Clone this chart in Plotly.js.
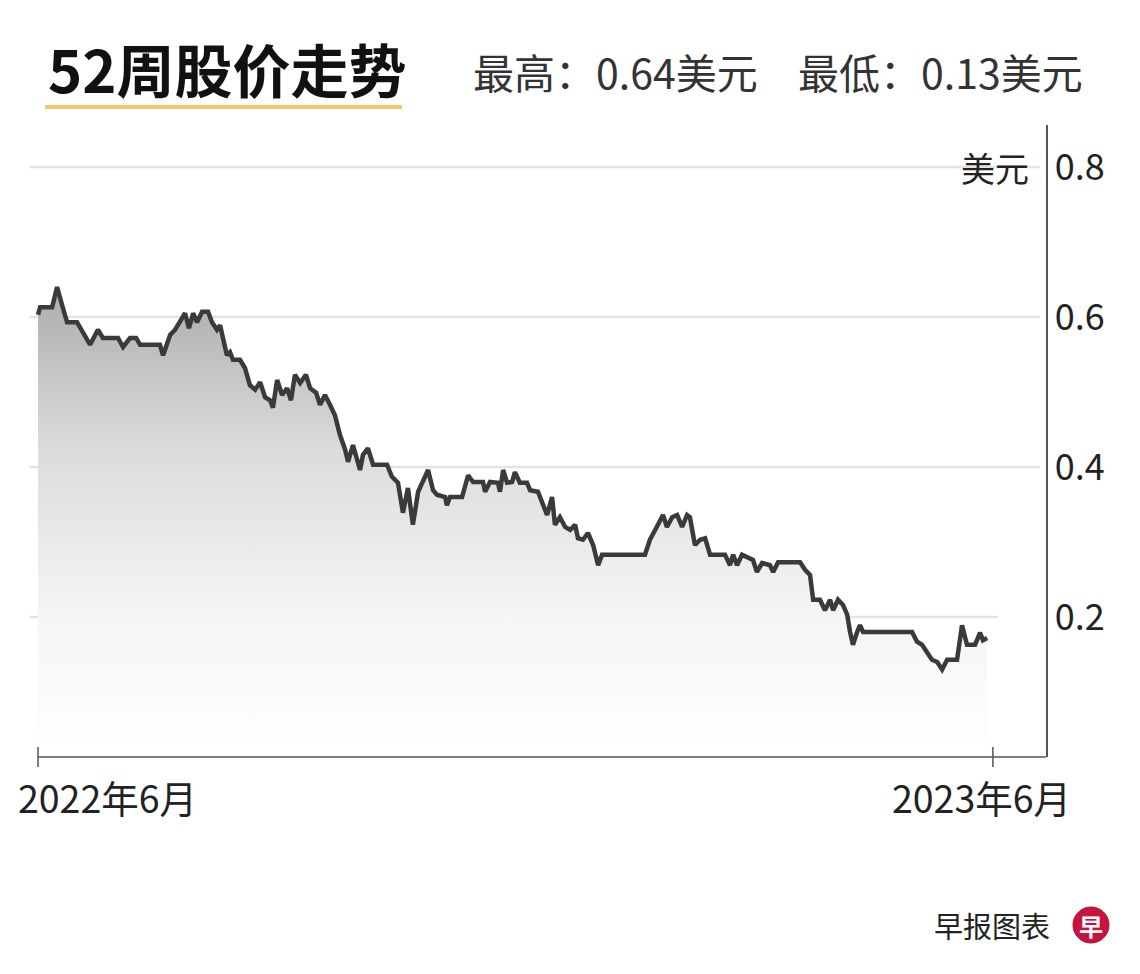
<!DOCTYPE html>
<html>
<head>
<meta charset="utf-8">
<script src="https://cdn.plot.ly/plotly-3.0.1.min.js"></script>
<style>
  html, body { margin: 0; padding: 0; background: #ffffff; }
  #chart { width: 1140px; height: 974px; }
</style>
</head>
<body>
<div id="chart"></div>
<script>
// Days since start of the 52-week window (2022年6月 = day 0, 2023年6月 = day 365)
const days = [
  0, 0.8, 5.4, 7.3, 9.2, 11.1, 14.9, 17.6, 19.9, 22.9, 24.8, 30.6, 32.5, 35.2, 37.5, 39.0,
  46.6, 47.8, 50.5, 52.4, 56.2, 57.7, 59.3, 60.8, 62.7, 65.0, 66.5, 68.4, 69.6, 72.2, 73.4,
  74.5, 77.2, 79.1, 81.0, 83.0, 84.9, 86.8, 88.7, 89.8, 91.4, 93.3, 95.2, 96.7, 98.2, 100.2,
  102.4, 104.0, 106.3, 107.8, 109.7, 111.6, 113.5, 115.4, 117.4, 118.5, 120.4, 123.1, 124.2,
  126.1, 128.1, 133.4, 135.3, 137.6, 139.5, 141.4, 143.3, 145.3, 146.8, 149.1, 151.0, 152.5,
  155.6, 156.3, 157.5, 162.1, 164.4, 166.3, 170.1, 170.9, 172.8, 175.8, 176.6, 177.8, 179.3,
  181.2, 182.3, 184.2, 186.9, 188.1, 191.1, 193.0, 194.6, 196.5, 197.6, 199.5, 201.5, 203.4,
  205.3, 206.4, 208.3, 210.2, 212.2, 214.1, 215.6, 232.0, 233.9, 235.9, 237.8, 238.9, 240.4,
  242.4, 244.3, 246.2, 248.1, 249.2, 251.1, 253.1, 255.0, 256.9, 262.6, 264.5, 265.7, 267.2,
  269.1, 273.3, 274.8, 276.8, 279.8, 281.0, 282.9, 291.3, 293.2, 295.1, 296.3, 298.9, 300.8,
  302.8, 303.9, 305.8, 307.7, 309.3, 310.4, 311.5, 313.1, 314.2, 315.4, 334.1, 336.0, 337.9,
  341.7, 343.7, 345.6, 347.5, 351.3, 353.2, 355.1, 358.2, 360.1, 361.2, 362.8
];
// Share price in US dollars (美元)
const prices = [
  0.603, 0.613, 0.613, 0.640, 0.616, 0.593, 0.593, 0.576, 0.563, 0.583, 0.572, 0.572, 0.560, 0.572, 0.572, 0.563,
  0.563, 0.549, 0.576, 0.583, 0.605, 0.585, 0.605, 0.593, 0.607, 0.607, 0.593, 0.583, 0.589, 0.549, 0.553,
  0.543, 0.543, 0.532, 0.509, 0.503, 0.513, 0.493, 0.489, 0.479, 0.516, 0.496, 0.505, 0.489, 0.523, 0.512,
  0.523, 0.505, 0.499, 0.483, 0.496, 0.483, 0.469, 0.443, 0.423, 0.407, 0.429, 0.396, 0.416,
  0.425, 0.403, 0.403, 0.387, 0.379, 0.339, 0.372, 0.323, 0.367, 0.380, 0.396, 0.369, 0.363,
  0.360, 0.349, 0.360, 0.360, 0.389, 0.380, 0.380, 0.367, 0.380, 0.379, 0.367, 0.396, 0.379,
  0.380, 0.393, 0.379, 0.379, 0.369, 0.367, 0.349, 0.336, 0.360, 0.323, 0.333, 0.320, 0.316,
  0.323, 0.305, 0.303, 0.312, 0.296, 0.269, 0.283, 0.283, 0.303, 0.316, 0.329, 0.336, 0.320,
  0.333, 0.336, 0.320, 0.336, 0.333, 0.296, 0.303, 0.305, 0.283, 0.283, 0.269, 0.283, 0.269,
  0.283, 0.276, 0.260, 0.272, 0.269, 0.260, 0.273, 0.273, 0.263, 0.256, 0.223, 0.223, 0.209,
  0.223, 0.209, 0.223, 0.216, 0.203, 0.180, 0.163, 0.180, 0.189, 0.180, 0.180, 0.167, 0.163,
  0.143, 0.140, 0.130, 0.143, 0.143, 0.189, 0.163, 0.163, 0.179, 0.169, 0.172
];
const yTicks = [0.2, 0.4, 0.6, 0.8];
const yTickLabels = ['0.2', '0.4', '0.6', '0.8'];
const xTickDays = [0, 365];
const xTickLabels = ['2022年6月', '2023年6月'];
const titleText = '52周股价走势';
const highText = '最高：0.64美元';
const lowText = '最低：0.13美元';
const unitText = '美元';
const sourceText = '早报图表';

const FONT = '"Noto Sans CJK SC", "Noto Sans", sans-serif';
const W = 1140, H = 974;
const L = 30, R = 1046, T = 125, B = 757;
const pw = R - L, ph = B - T;
const px = v => (v - L) / pw;          // pixel -> paper x
const py = v => (B - v) / ph;          // pixel -> paper y

const trace = {
  x: days, y: prices,
  type: 'scatter', mode: 'lines',
  line: { color: '#3a3a3a', width: 4.5, shape: 'linear' },
  fill: 'tozeroy',
  fillgradient: {
    type: 'vertical',
    start: 0.0133, stop: 0.64,
    colorscale: [[0, 'rgb(255,255,255)'], [0.3, 'rgb(245,245,245)'], [0.65, 'rgb(220,220,220)'], [1, 'rgb(172,172,172)']]
  },
  hoverinfo: 'skip'
};

const shapes = [];
// horizontal gridlines
yTicks.forEach(v => {
  shapes.push({ type: 'line', xref: 'paper', yref: 'y', x0: 0, x1: v === 0.2 ? px(998) : px(1040), y0: v, y1: v,
    line: { color: '#e3e3e3', width: 2.5 }, layer: 'below' });
});
// bottom axis line starting at the first tick
shapes.push({ type: 'line', xref: 'x', yref: 'paper', x0: xTickDays[0], x1: 385.3, y0: 0, y1: 0,
  line: { color: '#555555', width: 1.5 } });
// crossing x ticks
xTickDays.forEach(d => {
  shapes.push({ type: 'line', xref: 'x', yref: 'paper', x0: d, x1: d, y0: py(767), y1: py(747),
    line: { color: '#555555', width: 1.5 } });
});
// title underline
shapes.push({ type: 'line', xref: 'paper', yref: 'paper', x0: px(45), x1: px(402), y0: py(107), y1: py(107),
  line: { color: '#f5c66f', width: 4 } });
// logo circle
shapes.push({ type: 'circle', xref: 'paper', yref: 'paper', x0: px(1073), x1: px(1109), y0: py(943), y1: py(907),
  fillcolor: '#c8133f', line: { color: '#b00f35', width: 1 } });

const annotations = [
  { text: '<b>' + titleText + '</b>', xref: 'paper', yref: 'paper', x: px(46), y: py(68), xanchor: 'left', yanchor: 'middle',
    showarrow: false, font: { family: FONT, size: 58, color: '#111111' } },
  { text: highText, xref: 'paper', yref: 'paper', x: px(471), y: py(71), xanchor: 'left', yanchor: 'middle',
    showarrow: false, font: { family: FONT, size: 41, color: '#333333' } },
  { text: lowText, xref: 'paper', yref: 'paper', x: px(796), y: py(71), xanchor: 'left', yanchor: 'middle',
    showarrow: false, font: { family: FONT, size: 41, color: '#333333' } },
  { text: unitText, xref: 'paper', yref: 'paper', x: px(1031), y: py(167), xanchor: 'right', yanchor: 'middle',
    showarrow: false, font: { family: FONT, size: 34, color: '#222222' } },
  { text: xTickLabels[0], xref: 'paper', yref: 'paper', x: px(16), y: py(797), xanchor: 'left', yanchor: 'middle',
    showarrow: false, font: { family: FONT, size: 37.5, color: '#222222' } },
  { text: xTickLabels[1], xref: 'paper', yref: 'paper', x: px(890), y: py(797), xanchor: 'left', yanchor: 'middle',
    showarrow: false, font: { family: FONT, size: 37.5, color: '#222222' } },
  { text: sourceText, xref: 'paper', yref: 'paper', x: px(932), y: py(925), xanchor: 'left', yanchor: 'middle',
    showarrow: false, font: { family: FONT, size: 29, color: '#222222' } },
  { text: '<b>早</b>', xref: 'paper', yref: 'paper', x: px(1091), y: py(925), xanchor: 'center', yanchor: 'middle',
    showarrow: false, font: { family: FONT, size: 24, color: '#ffffff' } }
];

const layout = {
  width: W, height: H,
  margin: { l: L, r: W - R, t: T, b: H - B, pad: 0 },
  paper_bgcolor: '#ffffff', plot_bgcolor: '#ffffff',
  showlegend: false,
  font: { family: FONT, color: '#222222' },
  xaxis: {
    range: [-3.06, 385.3], showgrid: false, zeroline: false, showline: false,
    showticklabels: false, ticks: '', fixedrange: true
  },
  yaxis: {
    range: [0.0133, 0.856], side: 'right', showgrid: false, zeroline: false,
    showline: true, linecolor: '#555555', linewidth: 1.5, ticks: '',
    tickmode: 'array', tickvals: yTicks, ticktext: yTickLabels,
    tickfont: { family: FONT, size: 36, color: '#222222' }, ticklabelstandoff: 0, fixedrange: true
  },
  shapes: shapes,
  annotations: annotations
};

Plotly.newPlot('chart', [trace], layout, { displayModeBar: false, staticPlot: true });
</script>
</body>
</html>
